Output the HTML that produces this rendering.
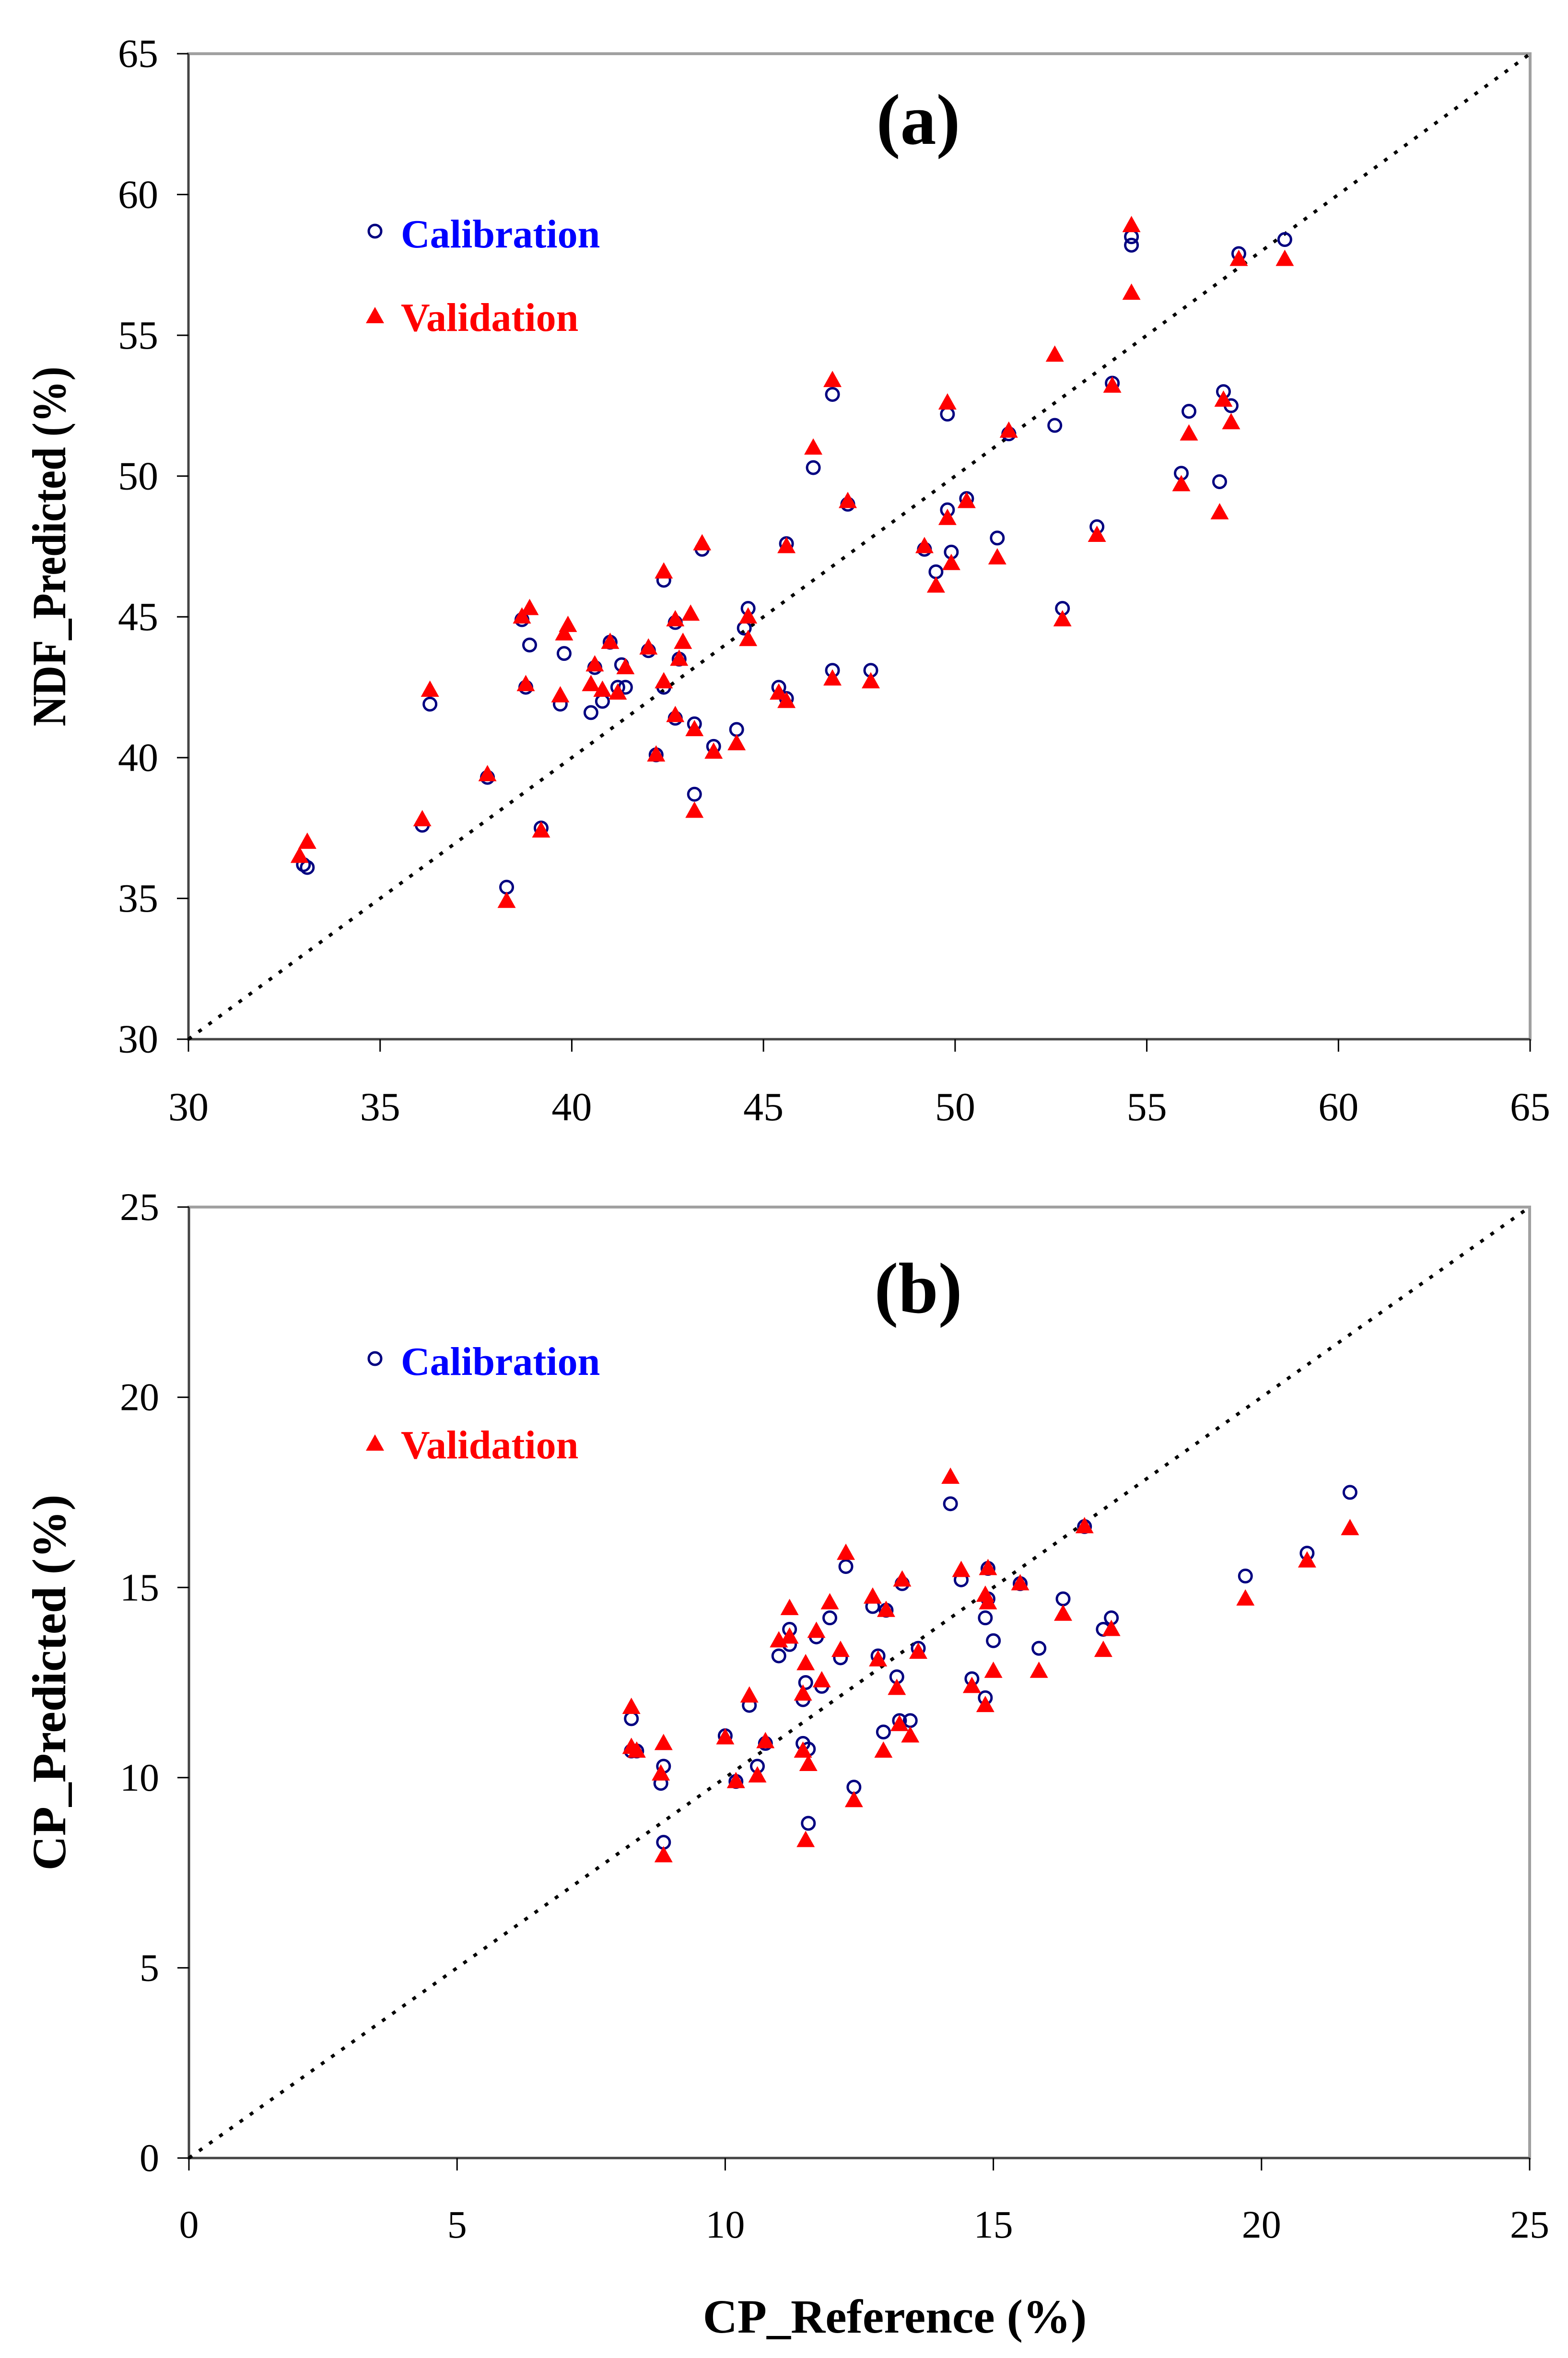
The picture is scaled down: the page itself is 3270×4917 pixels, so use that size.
<!DOCTYPE html>
<html><head><meta charset="utf-8">
<style>
html,body{margin:0;padding:0;background:#fff;}
svg{display:block;}
text{font-family:"Liberation Serif",serif;}
</style></head>
<body>
<svg id="root" xmlns="http://www.w3.org/2000/svg" width="3270" height="4917" viewBox="0 0 3270 4917"></svg>
<script>
// ---------- Panel (a) data: NDF ----------
const ndfCalX = [33.0,33.1,36.1,36.3,37.8,38.3,38.7,38.8,38.9,39.2,39.7,39.8,40.5,40.6,40.8,41.0,41.2,41.3,41.4,42.0,42.2,42.4,42.4,42.7,42.7,42.8,43.2,43.2,43.4,43.7,44.3,44.5,44.6,45.4,45.6,45.6,46.3,46.8,46.8,47.2,47.8,49.2,49.5,49.8,49.8,49.9,50.3,51.1,51.4,52.6,52.8,53.7,54.1,54.6,54.6,55.9,56.1,56.9,57.0,57.2,57.4,58.6];
const ndfCalY = [36.2,36.1,37.6,41.9,39.3,35.4,44.9,42.5,44.0,37.5,41.9,43.7,41.6,43.2,42.0,44.1,42.5,43.3,42.5,43.8,40.1,42.5,46.3,44.8,41.4,43.5,41.2,38.7,47.4,40.4,41.0,44.6,45.3,42.5,42.1,47.6,50.3,43.1,52.9,49.0,43.1,47.4,46.6,48.8,52.2,47.3,49.2,47.8,51.5,51.8,45.3,48.2,53.3,58.2,58.5,50.1,52.3,49.8,53.0,52.5,57.9,58.4];
const ndfValX = [32.9,33.1,36.1,36.3,37.8,38.3,38.7,38.8,38.9,39.2,39.7,39.8,39.9,40.5,40.6,40.8,41.0,41.2,41.4,42.0,42.2,42.4,42.4,42.7,42.7,42.8,42.9,43.1,43.2,43.2,43.4,43.7,44.3,44.6,44.6,45.4,45.6,45.6,46.3,46.8,46.8,47.2,47.8,49.2,49.5,49.8,49.8,49.9,50.3,51.1,51.4,52.6,52.8,53.7,54.1,54.6,54.6,55.9,56.1,56.9,57.0,57.2,57.4,58.6];
const ndfValY = [36.5,37.0,37.8,42.4,39.4,34.9,45.0,42.6,45.3,37.4,42.2,44.4,44.7,42.6,43.3,42.4,44.1,42.3,43.2,43.9,40.1,42.7,46.6,44.9,41.5,43.5,44.1,45.1,41.0,38.1,47.6,40.2,40.5,44.2,45.0,42.3,42.0,47.5,51.0,42.8,53.4,49.1,42.7,47.5,46.1,52.6,48.5,46.9,49.1,47.1,51.6,54.3,44.9,47.9,53.2,58.9,56.5,49.7,51.5,48.7,52.7,51.9,57.7,57.7];
const ndfTicks = [30,35,40,45,50,55,60,65];

// ---------- Panel (b) data: CP ----------
const cpCalX = [8.25,8.25,8.35,8.8,8.85,8.85,10.0,10.2,10.45,10.6,10.75,11.0,11.2,11.2,11.45,11.45,11.5,11.55,11.55,11.7,11.8,11.95,12.15,12.25,12.4,12.75,12.85,12.95,13.0,13.2,13.3,13.25,13.45,13.6,14.2,14.4,14.6,14.85,14.9,14.85,14.9,15.0,15.5,15.85,16.3,16.7,17.05,17.2,19.7,20.85,21.65];
const cpCalY = [11.55,10.7,10.7,9.85,10.3,8.3,11.1,9.9,11.9,10.3,10.9,13.2,13.9,13.5,12.05,10.9,12.5,10.75,8.8,13.7,12.4,14.2,13.15,15.55,9.75,14.5,13.2,11.2,14.4,12.65,15.1,11.5,11.5,13.4,17.2,15.2,12.6,12.1,15.5,14.2,14.7,13.6,15.1,13.4,14.7,16.6,13.9,14.2,15.3,15.9,17.5];
const cpValX = [8.25,8.25,8.35,8.8,8.85,8.85,10.0,10.2,10.45,10.6,10.75,11.0,11.2,11.2,11.45,11.45,11.5,11.55,11.5,11.7,11.8,11.95,12.15,12.25,12.4,12.75,12.85,12.95,13.0,13.2,13.3,13.25,13.45,13.6,14.2,14.4,14.6,14.85,14.9,14.85,14.9,15.0,15.5,15.85,16.3,16.7,17.05,17.2,19.7,20.85,21.65];
const cpValY = [11.85,10.8,10.7,10.1,10.9,7.95,11.05,9.9,12.15,10.05,10.95,13.6,14.45,13.7,12.2,10.7,13.0,10.35,8.35,13.85,12.55,14.6,13.35,15.9,9.4,14.75,13.1,10.7,14.4,12.35,15.2,11.4,11.1,13.3,17.9,15.45,12.4,11.9,15.5,14.8,14.6,12.8,15.1,12.8,14.3,16.6,13.35,13.9,14.7,15.7,16.55];
const cpTicks = [0,5,10,15,20,25];

const NS = "http://www.w3.org/2000/svg";
const root = document.getElementById('root');
function mk(tag, attrs, parent, txt){
  const e = document.createElementNS(NS, tag);
  for (const k in attrs) e.setAttribute(k, attrs[k]);
  if (txt !== undefined) e.textContent = txt;
  (parent || root).appendChild(e);
  return e;
}

function panel(cfg){
  const g = mk('g', {});
  
  
  const {x0,x1,y0,y1,min,max} = cfg;
  const sx = v => x0 + (v - min) / (max - min) * (x1 - x0);
  const sy = v => y1 - (v - min) / (max - min) * (y1 - y0);
  const fr = mk('rect', {x:x0, y:y0, width:x1-x0, height:y1-y0, fill:'none', stroke:'#a0a0a0', 'stroke-width':6}, g);
  
  
  const xa = mk('line', {x1:x0, y1:y1, x2:x1, y2:y1, stroke:'#444', 'stroke-width':4}, g);
  
  
  const ya = mk('line', {x1:x0, y1:y0, x2:x0, y2:y1, stroke:'#444', 'stroke-width':4}, g);
  
  
  const dl = mk('line', {x1:sx(min), y1:sy(min), x2:sx(max), y2:sy(max), stroke:'#000', 'stroke-width':7, 'stroke-dasharray':'8 18'}, g);
  
  
  cfg.ticks.forEach(t => {
    const tx = mk('line', {x1:sx(t), y1:y1, x2:sx(t), y2:y1+26, stroke:'#000', 'stroke-width':3}, g);
    
    
    const ty = mk('line', {x1:x0-24, y1:sy(t), x2:x0, y2:sy(t), stroke:'#000', 'stroke-width':3}, g);
    
    
    const lx = mk('text', {x:sx(t), y:cfg.xLabY, 'text-anchor':'middle', 'font-size':cfg.tickFs, fill:'#000'}, g, String(t));
    
    
    const ly = mk('text', {x:cfg.yLabX, y:sy(t)+cfg.tickFs*0.33, 'text-anchor':'end', 'font-size':cfg.tickFs, fill:'#000'}, g, String(t));
    
    
  });
  cfg.calX.forEach((v,i) => {
    const c = mk('circle', {cx:sx(v), cy:sy(cfg.calY[i]), r:13, fill:'none', stroke:'#000080', 'stroke-width':5}, g);
    
    
  });
  cfg.valX.forEach((v,i) => {
    const px = sx(v), py = sy(cfg.valY[i]);
    const p = mk('polygon', {points:`${px},${py-20} ${px-19},${py+14} ${px+19},${py+14}`, fill:'#ff0000'}, g);
    
    
  });
  const pl = mk('text', {x:1915, y:cfg.letterY, 'text-anchor':'middle', 'font-size':150, 'font-weight':'bold', fill:'#000'}, g, cfg.letter);
  
  
  const lc = mk('circle', {cx:782, cy:cfg.legY, r:13, fill:'none', stroke:'#000080', 'stroke-width':5}, g);
  
  
  const lt = mk('text', {x:836, y:cfg.legY+34, 'font-size':84, 'font-weight':'bold', fill:'#0000ff'}, g, 'Calibration');
  
  
  const vy = cfg.legY + 178;
  const lv = mk('polygon', {points:`782,${vy-20} 763,${vy+14} 801,${vy+14}`, fill:'#ff0000'}, g);
  
  
  const lvt = mk('text', {x:836, y:vy+30, 'font-size':84, 'font-weight':'bold', fill:'#ff0000'}, g, 'Validation');
  
  
  const yc = (y0+y1)/2;
  const ytAttrs = {x:0, y:0, 'text-anchor':'middle', 'font-size':100, 'font-weight':'bold', fill:'#000', transform:`translate(${cfg.yTitleX},${yc}) rotate(-90)`};
  if (cfg.yTitleLen) { ytAttrs.textLength = cfg.yTitleLen; ytAttrs.lengthAdjust = 'spacingAndGlyphs'; }
  const yt = mk('text', ytAttrs, g, cfg.yTitle);
  
  
  return {sx, sy};
}

panel({name:'ndf-chart', x0:393, x1:3191, y0:112, y1:2167, min:30, max:65, ticks:ndfTicks,
  calX:ndfCalX, calY:ndfCalY, valX:ndfValX, valY:ndfValY, tickFs:84, xLabY:2336, yLabX:330,
  letter:'(a)', letterY:300, legY:482, yTitle:'NDF_Predicted (%)', yTitleX:136, yTitleLen:750});
panel({name:'cp-chart', x0:394, x1:3190, y0:2517, y1:4500, min:0, max:25, ticks:cpTicks,
  calX:cpCalX, calY:cpCalY, valX:cpValX, valY:cpValY, tickFs:82, xLabY:4666, yLabX:332,
  letter:'(b)', letterY:2737, legY:2833, yTitle:'CP_Predicted (%)', yTitleX:136});

const xt = mk('text', {x:1866, y:4864, 'text-anchor':'middle', 'font-size':100, 'font-weight':'bold', fill:'#000'}, root, 'CP_Reference (%)');


</script>
</body></html>
